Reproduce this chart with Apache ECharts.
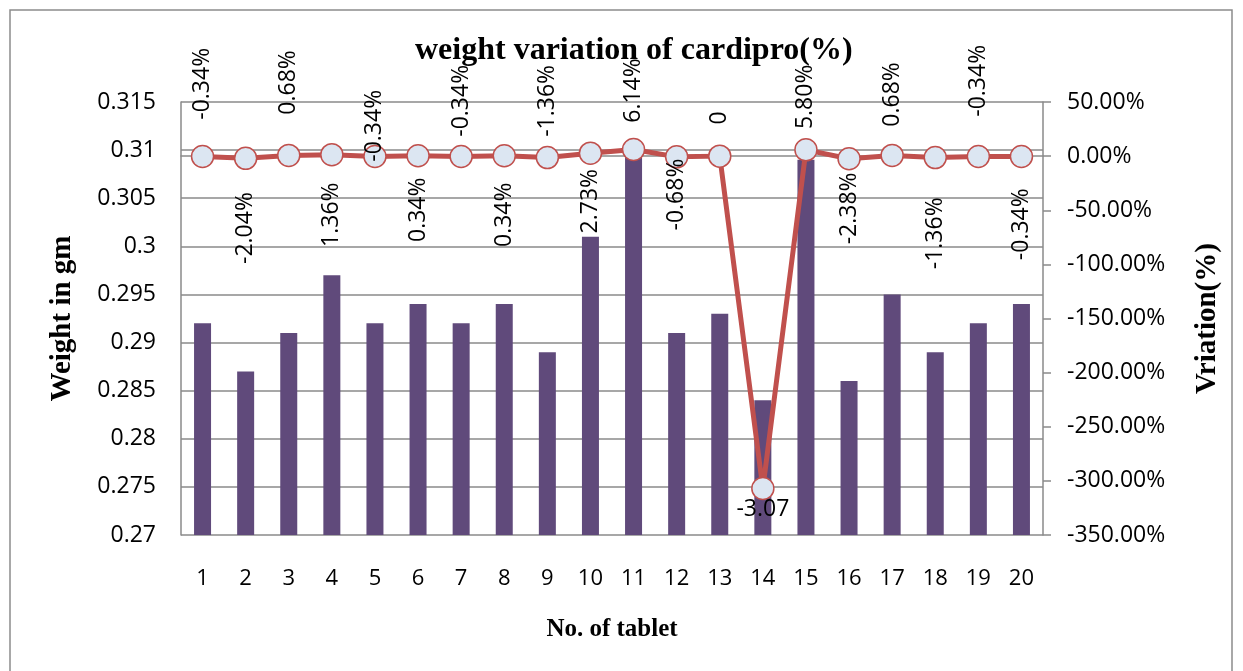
<!DOCTYPE html>
<html>
<head>
<meta charset="utf-8">
<title>weight variation of cardipro</title>
<script src="https://cdn.jsdelivr.net/npm/echarts@6/dist/echarts.min.js"></script>
<style>
  html, body { margin: 0; padding: 0; background: #fff; }
  #main { width: 1243px; height: 671px; }
</style>
</head>
<body>
<div id="main"></div>
<script>
// tablet numbers on the x axis
const tablets = ['1', '2', '3', '4', '5', '6', '7', '8', '9', '10',
  '11', '12', '13', '14', '15', '16', '17', '18', '19', '20'];

// weight of each tablet in gm (bars, left axis)
const weights = [0.292, 0.287, 0.291, 0.297, 0.292, 0.294, 0.292, 0.294, 0.289, 0.301,
  0.310, 0.291, 0.293, 0.284, 0.309, 0.286, 0.295, 0.289, 0.292, 0.294];

// variation as a fraction (line, right axis shown in %)
const variation = [-0.0034, -0.0204, 0.0068, 0.0136, -0.0034, 0.0034, -0.0034, 0.0034, -0.0136, 0.0273,
  0.0614, -0.0068, 0, -3.07, 0.0580, -0.0238, 0.0068, -0.0136, -0.0034, -0.0034];

// label placement, the way the labels sit in the original (style only)
const labelSide = ['top', 'bottom', 'top', 'bottom', 'top', 'bottom', 'top', 'bottom', 'top', 'bottom',
  'top', 'bottom', 'top', 'bottom', 'top', 'bottom', 'top', 'bottom', 'top', 'bottom'];
const labelGap = [25, 22, 29, 16, -17, 10, 8, 15, 9, 4,
  15, -10, 20, -2, 9, 2, 17, 28, 28, 20];

const gridGrey = '#8a8a8a';
const tickFont = 'Open Sans';
const nameFont = '"Liberation Serif", "Times New Roman", serif';

function varText(v) {
  if (v === 0) return '0';
  if (Math.abs(v) >= 1) return v.toFixed(2);
  return (v * 100).toFixed(2) + '%';
}

const lineData = variation.map(function (v, i) {
  if (Math.abs(v) >= 1) {
    // the big drop gets a flat label under the point
    return {
      value: v,
      label: { position: 'bottom', rotate: 0, distance: labelGap[i], align: 'center', verticalAlign: 'top' }
    };
  }
  const up = labelSide[i] === 'top';
  return {
    value: v,
    label: {
      position: labelSide[i],
      rotate: 90,
      distance: labelGap[i],
      align: up ? 'left' : 'right',
      verticalAlign: 'middle'
    }
  };
});

var dom = document.getElementById('main');
var myChart = echarts.init(dom, null, { renderer: 'canvas' });

var option = {
  animation: false,
  backgroundColor: '#fff',
  title: {
    text: 'weight variation of cardipro(%)',
    left: 415,
    top: 35,
    padding: 0,
    textStyle: { fontFamily: nameFont, fontWeight: 'bold', fontSize: 32, color: '#000' }
  },
  graphic: [
    {
      type: 'rect',
      shape: { x: 10, y: 10, width: 1222, height: 720 },
      style: { fill: null, stroke: '#8c8c8c', lineWidth: 1.5 },
      silent: true
    }
  ],
  grid: { left: 181, right: 200, top: 102, bottom: 136 },
  xAxis: {
    type: 'category',
    data: tablets,
    boundaryGap: true,
    name: 'No. of tablet',
    nameLocation: 'middle',
    nameGap: 82,
    nameTextStyle: { fontFamily: nameFont, fontWeight: 'bold', fontSize: 25, color: '#000' },
    axisLine: { lineStyle: { color: gridGrey, width: 1.5 } },
    axisTick: { show: false },
    axisLabel: { margin: 33, fontFamily: tickFont, fontSize: 22, color: '#000' }
  },
  yAxis: [
    {
      type: 'value',
      min: 0.27,
      max: 0.315,
      interval: 0.005,
      name: 'Weight in gm',
      nameLocation: 'middle',
      nameRotate: 90,
      nameGap: 104,
      nameTextStyle: { fontFamily: nameFont, fontWeight: 'bold', fontSize: 29, color: '#000' },
      axisLine: { show: true, lineStyle: { color: gridGrey, width: 1.5 } },
      axisTick: { show: false },
      splitLine: { show: true, lineStyle: { color: gridGrey, width: 1.5 } },
      axisLabel: {
        margin: 25, fontFamily: tickFont, fontSize: 23, color: '#000',
        formatter: function (v) { return String(+v.toFixed(3)); }
      }
    },
    {
      type: 'value',
      position: 'right',
      min: -3.5,
      max: 0.5,
      interval: 0.5,
      name: 'Vriation(%)',
      nameLocation: 'middle',
      nameRotate: 90,
      nameGap: 150,
      nameTextStyle: { fontFamily: nameFont, fontWeight: 'bold', fontSize: 29, color: '#000' },
      axisLine: { show: true, lineStyle: { color: gridGrey, width: 1.5 } },
      axisTick: { show: true, length: 8, lineStyle: { color: gridGrey, width: 1.5 } },
      splitLine: { show: false },
      axisLabel: {
        margin: 24, fontFamily: tickFont, fontSize: 23, color: '#000',
        formatter: function (v) { return (v * 100).toFixed(2) + '%'; }
      }
    }
  ],
  series: [
    {
      name: 'Weight',
      type: 'bar',
      yAxisIndex: 0,
      data: weights,
      barWidth: 17,
      itemStyle: { color: '#604a7b' },
      z: 2
    },
    {
      name: 'Variation',
      type: 'line',
      yAxisIndex: 1,
      data: lineData,
      symbol: 'circle',
      symbolSize: 22,
      lineStyle: { color: '#c0504d', width: 5 },
      itemStyle: { color: '#dce6f2', borderColor: '#c0504d', borderWidth: 1.5 },
      label: {
        show: true,
        fontFamily: tickFont,
        fontSize: 23,
        color: '#000',
        formatter: function (p) { return varText(p.value); }
      },
      z: 3
    }
  ]
};

if (option && typeof option === 'object') {
  myChart.setOption(option);
}

window.addEventListener('resize', myChart.resize);
</script>
</body>
</html>
